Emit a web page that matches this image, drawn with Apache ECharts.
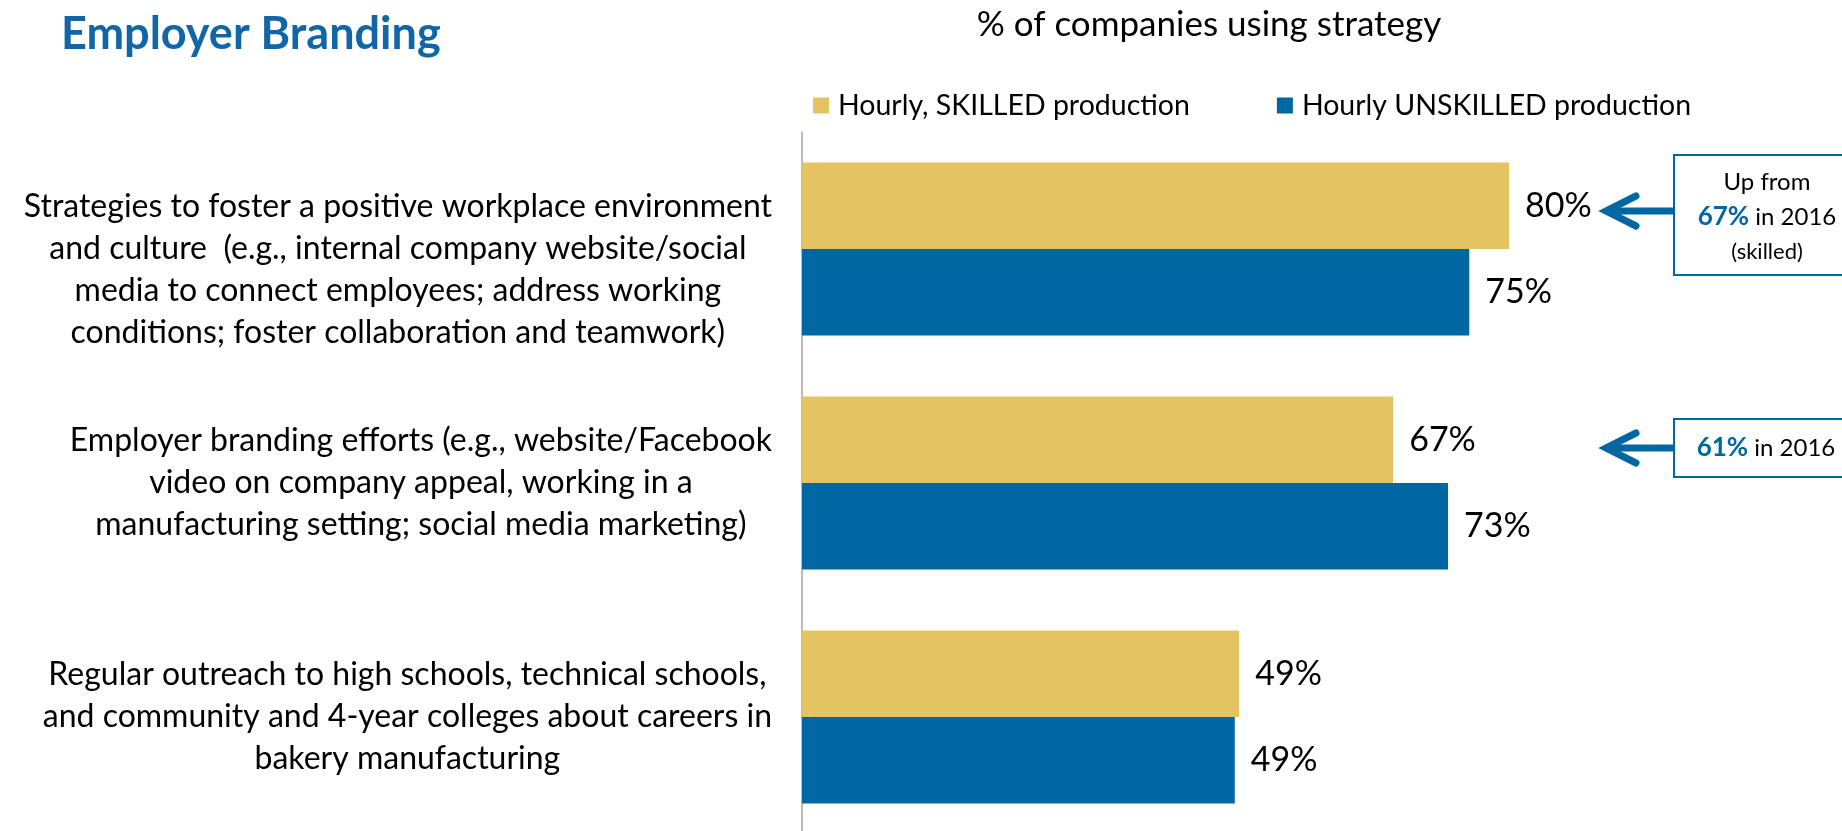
<!DOCTYPE html>
<html>
<head>
<meta charset="utf-8">
<script src="https://cdn.jsdelivr.net/npm/echarts@6/dist/echarts.min.js"></script>
<style>
html,body{margin:0;padding:0;background:#fff;}
#chart{width:1842px;height:831px;}
</style>
</head>
<body>
<div id="chart"></div>
<script>
const categories = [
  'Strategies to foster a positive workplace environment\nand culture  (e.g., internal company website/social\nmedia to connect employees; address working\nconditions; foster collaboration and teamwork)',
  'Employer branding efforts (e.g., website/Facebook\nvideo on company appeal, working in a\nmanufacturing setting; social media marketing)',
  'Regular outreach to high schools, technical schools,\nand community and 4-year colleges about careers in\nbakery manufacturing'
];
const seriesNames = ['Hourly, SKILLED production', 'Hourly UNSKILLED production'];
const skilled = [79.9, 66.8, 49.4];
const unskilled = [75.4, 73.0, 48.9];

const GOLD = '#E4C462';
const BLUE = '#0067A3';
const FONT = 'Lato';

const chart = echarts.init(document.getElementById('chart'));

const labelOpt = {
  show: true, position: 'right', distance: 16,
  formatter: p => Math.round(p.value) + '%',
  color: '#000', fontSize: 34, fontFamily: FONT
};

chart.setOption({
  animation: false,
  backgroundColor: '#fff',
  title: [
    { text: 'Employer Branding', left: 56, top: 7,
      textStyle: { color: '#1066A6', fontSize: 45, fontWeight: 'bold', fontFamily: FONT } },
    { text: '% of companies using strategy', left: 1204, top: 2, textAlign: 'center',
      textStyle: { color: '#000', fontSize: 35, fontWeight: 'normal', fontFamily: FONT } }
  ],
  legend: {
    left: 808, top: 86, itemWidth: 16, itemHeight: 16, itemGap: 87, icon: 'rect',
    data: seriesNames,
    textStyle: { color: '#000', fontSize: 28.5, fontFamily: FONT, padding: [0, 0, 0, 4] }
  },
  grid: { left: 802, width: 885, top: 132, height: 702, outerBoundsMode: 'none', containLabel: false },
  xAxis: { type: 'value', min: 0, max: 100, show: false },
  yAxis: {
    type: 'category', inverse: true, data: categories,
    axisLine: { show: true, lineStyle: { color: '#A6A6A6', width: 1.5 } },
    axisTick: { show: false },
    axisLabel: {
      align: 'right', margin: 30, color: '#000', fontSize: 32, fontFamily: FONT,
      formatter: (v, i) => {
        const lines = v.split('\n');
        if (i === 0) lines.unshift(' ');
        return lines.map(l => '{c|' + l + '}').join('\n');
      },
      rich: { c: { align: 'center', fontSize: 32, lineHeight: 42, fontFamily: FONT, color: '#000' } }
    }
  },
  series: [
    { name: seriesNames[0], type: 'bar', data: skilled, itemStyle: { color: GOLD },
      barGap: '0%', barCategoryGap: '26%', label: labelOpt },
    { name: seriesNames[1], type: 'bar', data: unskilled, itemStyle: { color: BLUE },
      barGap: '0%', barCategoryGap: '26%', label: labelOpt }
  ],
  graphic: [
    { type: 'rect', shape: { x: 1674, y: 155, width: 220, height: 120 },
      style: { fill: '#fff', stroke: BLUE, lineWidth: 2 } },
    { type: 'text', x: 1767, y: 217,
      style: { text: 'Up from\n{b|67%} in 2016\n{s|(skilled)}', align: 'center', verticalAlign: 'middle',
        fill: '#000', font: '24px Lato', lineHeight: 35,
        rich: { b: { fill: BLUE, fontWeight: 'bold', fontSize: 26, fontFamily: FONT, lineHeight: 35 },
                s: { fontSize: 22, fontFamily: FONT, fill: '#000', lineHeight: 35 } } } },
    { type: 'polyline', shape: { points: [[1674, 211], [1610, 211]] },
      style: { stroke: BLUE, lineWidth: 7, fill: null } },
    { type: 'polyline', shape: { points: [[1636, 196], [1606, 211], [1636, 226]] },
      style: { stroke: BLUE, lineWidth: 7, fill: null, lineCap: 'round', lineJoin: 'miter' } },

    { type: 'rect', shape: { x: 1674, y: 419, width: 220, height: 58 },
      style: { fill: '#fff', stroke: BLUE, lineWidth: 2 } },
    { type: 'text', x: 1766, y: 448,
      style: { text: '{b|61%} in 2016', align: 'center', verticalAlign: 'middle',
        fill: '#000', font: '24px Lato',
        rich: { b: { fill: BLUE, fontWeight: 'bold', fontSize: 26, fontFamily: FONT } } } },
    { type: 'polyline', shape: { points: [[1674, 448], [1610, 448]] },
      style: { stroke: BLUE, lineWidth: 7, fill: null } },
    { type: 'polyline', shape: { points: [[1636, 433], [1606, 448], [1636, 463]] },
      style: { stroke: BLUE, lineWidth: 7, fill: null, lineCap: 'round', lineJoin: 'miter' } }
  ]
});
</script>
</body>
</html>
